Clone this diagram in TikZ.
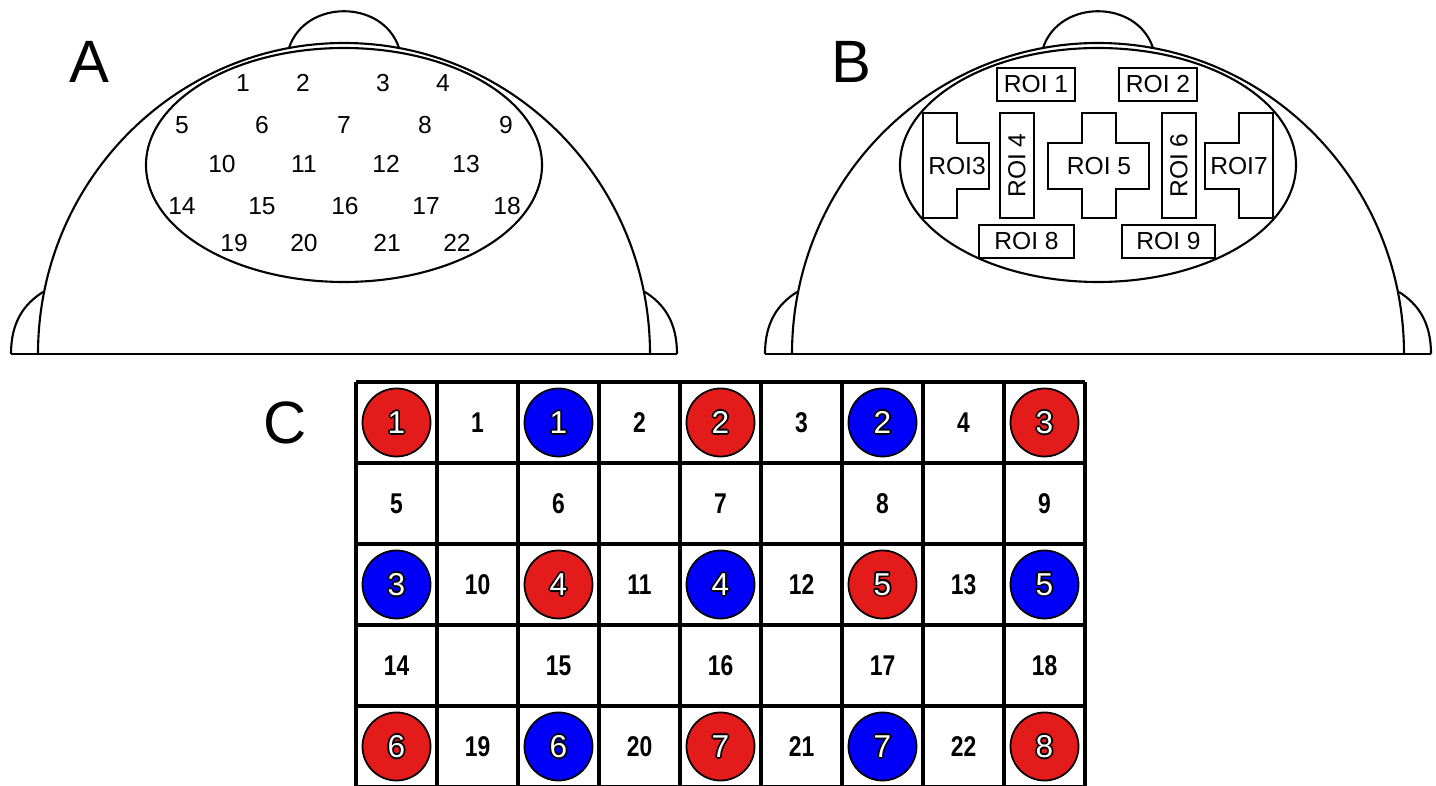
\documentclass[tikz,border=0pt]{standalone}
\usepackage{tikz}
\usepackage{graphicx}
\usepackage{fontspec}
\setmainfont{Liberation Sans}

\definecolor{redc}{RGB}{228,27,27}
\definecolor{bluec}{RGB}{0,0,250}

\tikzset{
  head/.style={line width=0.6pt},
  elec/.style={font=\fontsize{7}{8}\selectfont, inner sep=0pt},
  roibox/.style={draw, fill=white, line width=0.6pt, inner sep=0pt, font=\fontsize{7}{8}\selectfont},
  roilabel/.style={font=\fontsize{7}{8}\selectfont, inner sep=0pt},
  panel/.style={font=\fontsize{17}{20}\selectfont, inner sep=0pt},
  gridline/.style={line width=1.2pt},
  dot/.style={circle, draw, line width=0.5pt, minimum size=0.68cm, inner sep=0pt},
  dotnum/.style={font=\fontsize{9}{10}\selectfont, inner sep=0pt},
  cellnum/.style={font=\bfseries\fontsize{6.5}{7}\selectfont, inner sep=0pt}
}

\begin{document}
\begin{tikzpicture}[x=0.01cm,y=-0.01cm]
  \useasboundingbox (0,0) rectangle (1436,786);

  % heads (A and B share the same outline)
  \foreach \hx in {0,754} {
    \begin{scope}[shift={(\hx,0)}]
      % nose
      \draw[head] (289,48) .. controls (305,-1) and (383,-1) .. (399,48);
      % skull
      \draw[head] (38,354) arc[start angle=180, end angle=360, x radius=306, y radius=311];
      % ears
      \draw[head] (11,354) .. controls (11,322) and (24,304) .. (43,292);
      \draw[head] (677,354) .. controls (677,322) and (664,304) .. (645,292);
      % base line
      \draw[head] (11,354) -- (677,354);
      % cap
      \draw[head] (344,165) ellipse [x radius=198, y radius=117];
    \end{scope}
  }

  % panel letters
  \node[panel] (lblA) at (89,62) {A};
  \node[panel] (lblB) at (851,62) {B};
  \node[panel] (lblC) at (285,423) {C};

  % channels on head A
  \foreach \n/\x/\y in {1/243/83, 2/303/83, 3/383/83, 4/443/83,
      5/182/125, 6/262/125, 7/344/125, 8/425/125, 9/506/125,
      10/222/164, 11/304/164, 12/386/164, 13/466/164,
      14/182/206, 15/262/206, 16/345/206, 17/426/206, 18/507/206,
      19/234/243, 20/304/243, 21/387/243, 22/457/243}
    \node[elec] (ch\n) at (\x,\y) {\n};

  % regions on head B
  \node[roibox, minimum width=0.78cm, minimum height=0.33cm] (roi1) at (1036,84.5) {ROI 1};
  \node[roibox, minimum width=0.78cm, minimum height=0.33cm] (roi2) at (1158,84.5) {ROI 2};
  \draw[head, fill=white] (923,113) -- (957,113) -- (957,143) -- (989,143) -- (989,189)
    -- (957,189) -- (957,218) -- (923,218) -- cycle;
  \node[roilabel] (roi3) at (957,166) {ROI3};
  \node[roibox, rotate=90, minimum width=1.05cm, minimum height=0.34cm] (roi4) at (1017,165.5) {ROI 4};
  \draw[head, fill=white] (1082,113) -- (1116,113) -- (1116,143) -- (1149,143) -- (1149,189)
    -- (1116,189) -- (1116,218) -- (1082,218) -- (1082,189) -- (1048,189) -- (1048,143)
    -- (1082,143) -- cycle;
  \node[roilabel] (roi5) at (1099,166) {ROI 5};
  \node[roibox, rotate=90, minimum width=1.05cm, minimum height=0.34cm] (roi6) at (1179,165.5) {ROI 6};
  \draw[head, fill=white] (1273,113) -- (1239,113) -- (1239,143) -- (1205,143) -- (1205,189)
    -- (1239,189) -- (1239,218) -- (1273,218) -- cycle;
  \node[roilabel] (roi7) at (1239,166) {ROI7};
  \node[roibox, minimum width=0.95cm, minimum height=0.33cm] (roi8) at (1026.5,241.5) {ROI 8};
  \node[roibox, minimum width=0.93cm, minimum height=0.33cm] (roi9) at (1168.5,241.5) {ROI 9};

  % grid
  \foreach \i in {0,...,9}
    \draw[gridline] ({356+81*\i},382) -- ({356+81*\i},787);
  \foreach \j in {0,...,5}
    \draw[gridline] (356,{382+81*\j}) -- (1085,{382+81*\j});

  % sources and detectors
  \foreach \c/\r/\col/\n in {1/1/redc/1, 3/1/bluec/1, 5/1/redc/2, 7/1/bluec/2, 9/1/redc/3,
      1/3/bluec/3, 3/3/redc/4, 5/3/bluec/4, 7/3/redc/5, 9/3/bluec/5,
      1/5/redc/6, 3/5/bluec/6, 5/5/redc/7, 7/5/bluec/7, 9/5/redc/8} {
    \node[dot, fill=\col] (dot\c\r) at ({315.5+81*\c},{341.5+81*\r}) {};
    \foreach \a in {0,45,...,315}
      \node[dotnum, black, shift={(\a:0.5pt)}] at (dot\c\r) {\n};
    \node[dotnum, white] at (dot\c\r) {\n};
  }

  % channel numbers
  \foreach \c/\r/\n in {2/1/1, 4/1/2, 6/1/3, 8/1/4,
      1/2/5, 3/2/6, 5/2/7, 7/2/8, 9/2/9,
      2/3/10, 4/3/11, 6/3/12, 8/3/13,
      1/4/14, 3/4/15, 5/4/16, 7/4/17, 9/4/18,
      2/5/19, 4/5/20, 6/5/21, 8/5/22}
    \node[cellnum] (num\n) at ({315.5+81*\c},{341.5+81*\r}) {\scalebox{1}[1.25]{\n}};
\end{tikzpicture}
\end{document}
